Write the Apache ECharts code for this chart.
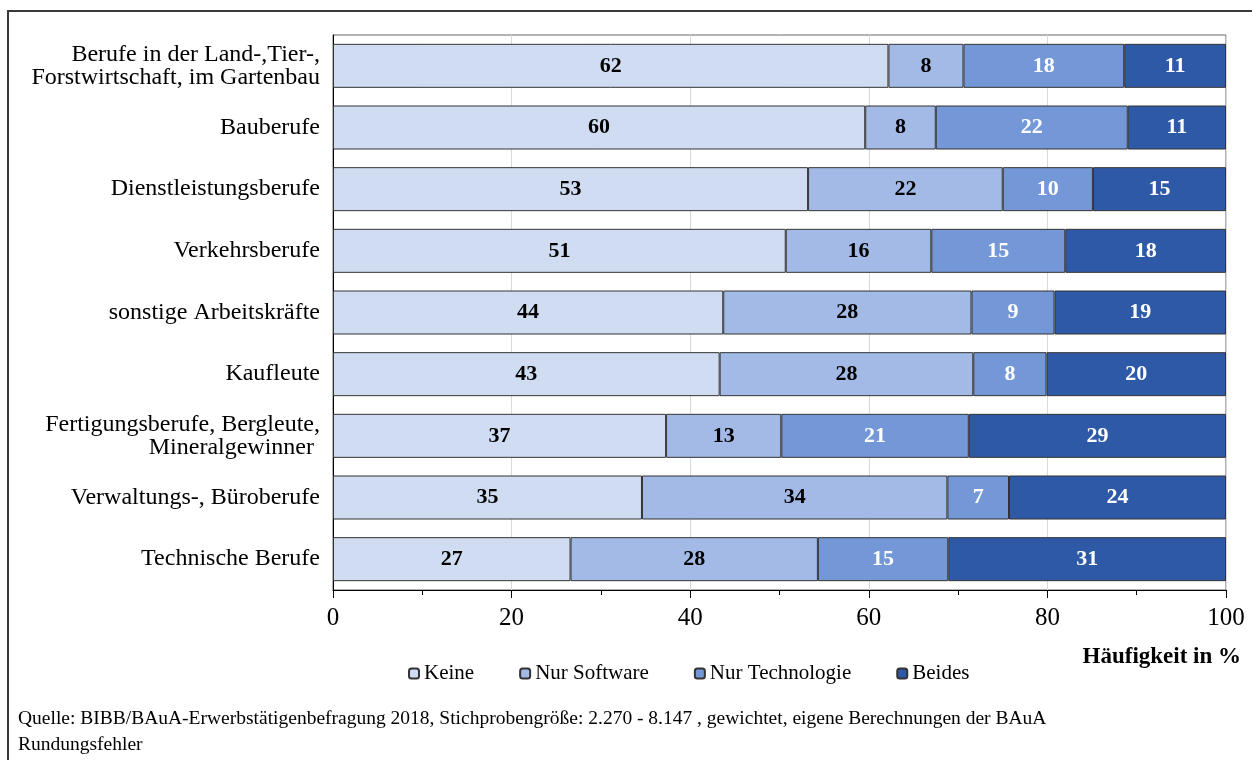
<!DOCTYPE html>
<html>
<head>
<meta charset="utf-8">
<script src="https://cdn.jsdelivr.net/npm/echarts@6/dist/echarts.min.js"></script>
<style>
    html, body { margin: 0; padding: 0; background: #fff; }
    #chart { width: 1252px; height: 760px; }
</style>
</head>
<body>
<div id="chart"></div>
<script>
    // Berufsgruppen (von oben nach unten)
    var categories = [
        'Berufe in der Land-,Tier-,\nForstwirtschaft, im Gartenbau',
        'Bauberufe',
        'Dienstleistungsberufe',
        'Verkehrsberufe',
        'sonstige Arbeitskräfte',
        'Kaufleute',
        'Fertigungsberufe, Bergleute,\nMineralgewinner ',
        'Verwaltungs-, Büroberufe',
        'Technische Berufe'
    ];
    var keine          = [62.2, 59.6, 53.2, 50.7, 43.7, 43.3, 37.3, 34.6, 26.6];
    var nurSoftware    = [8.4, 7.9, 21.8, 16.3, 27.8, 28.4, 12.9, 34.2, 27.7];
    var nurTechnologie = [18.0, 21.5, 10.1, 15.0, 9.3, 8.2, 21.0, 6.9, 14.6];
    var beides         = [11.4, 11.0, 14.9, 18.0, 19.2, 20.1, 28.8, 24.3, 31.1];
    var xTicks = [0, 20, 40, 60, 80, 100];

    var serif = '"Liberation Serif", "Times New Roman", serif';

    function bar(name, data, color, labelColor) {
        return {
            name: name,
            type: 'bar',
            stack: 'total',
            data: data,
            barWidth: 44,
            itemStyle: {color: color, borderColor: '#333', borderWidth: 1},
            label: {
                show: true,
                position: 'inside',
                color: labelColor,
                fontFamily: serif,
                fontWeight: 'bold',
                fontSize: 22,
                formatter: function (p) { return Math.round(p.value); }
            }
        };
    }

    var myChart = echarts.init(document.getElementById('chart'));
    var option = {
        animation: false,
        textStyle: {fontFamily: serif},
        grid: {
            left: 333, right: 26, top: 35, bottom: 170,
            show: true, borderColor: '#666', borderWidth: 1
        },
        legend: {
            left: 403,
            top: 658,
            itemWidth: 10,
            itemHeight: 10,
            itemGap: 45,
            textStyle: {fontFamily: serif, fontSize: 21, color: '#000'},
            data: ['Keine', 'Nur Software', 'Nur Technologie', 'Beides']
        },
        xAxis: {
            type: 'value',
            min: 0,
            max: 100,
            interval: 20,
            axisLine: {show: true, lineStyle: {color: '#000', width: 1}},
            axisTick: {show: true, length: 8, lineStyle: {color: '#000'}},
            minorTick: {show: true, splitNumber: 2, length: 5, lineStyle: {color: '#000'}},
            splitLine: {show: true, lineStyle: {color: '#d9d9d9', width: 1}},
            axisLabel: {
                fontFamily: serif, fontSize: 25, color: '#000', margin: 16,
                formatter: function (v) { return xTicks.indexOf(v) >= 0 ? String(v) : ''; }
            }
        },
        yAxis: {
            type: 'category',
            inverse: true,
            data: categories,
            axisLine: {show: true, lineStyle: {color: '#000', width: 1}},
            axisTick: {show: false},
            axisLabel: {
                fontFamily: serif, fontSize: 24, color: '#000', margin: 13,
                lineHeight: 23, align: 'right'
            }
        },
        series: [
            bar('Keine', keine, '#cfdcf2', '#000'),
            bar('Nur Software', nurSoftware, '#a3bae6', '#000'),
            bar('Nur Technologie', nurTechnologie, '#7497d8', '#fff'),
            bar('Beides', beides, '#2e59a7', '#fff')
        ],
        graphic: [
            {
                type: 'rect',
                silent: true,
                shape: {x: 8, y: 11, width: 1300, height: 800},
                style: {fill: 'none', stroke: '#3a3a3a', lineWidth: 2}
            },
            {
                type: 'text',
                right: 11,
                top: 646,
                style: {
                    text: 'Häufigkeit in %',
                    font: 'bold 23px ' + serif,
                    fill: '#000'
                }
            },
            {
                type: 'text',
                left: 18,
                top: 706,
                style: {
                    text: 'Quelle: BIBB/BAuA-Erwerbstätigenbefragung 2018, Stichprobengröße: 2.270 - 8.147 , gewichtet, eigene Berechnungen der BAuA\nRundungsfehler',
                    font: '19.5px ' + serif,
                    lineHeight: 26,
                    fill: '#000'
                }
            }
        ]
    };
    myChart.setOption(option);
</script>
</body>
</html>
